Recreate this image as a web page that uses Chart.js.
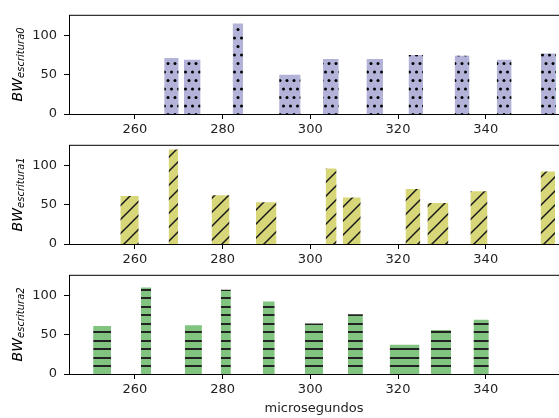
<!DOCTYPE html>
<html>
<head>
<meta charset="utf-8">
<script src="https://cdn.jsdelivr.net/npm/chart.js@4/dist/chart.umd.min.js"></script>
<style>
  body { margin: 0; background: #fff; width: 559px; height: 418px; position: relative; overflow: hidden; }
  canvas { position: absolute; left: 0; }
</style>
</head>
<body>
<canvas id="ch0" width="559" height="135" style="top:0"></canvas>
<canvas id="ch1" width="559" height="135" style="top:130px"></canvas>
<canvas id="ch2" width="559" height="158" style="top:260px"></canvas>
<script>
// tick labels
const xTicks = [260, 280, 300, 320, 340];
const yTicks = [0, 50, 100];

// escritura0: bar start / end (microsegundos) and BW
const w0Start = [266.7, 271.2, 282.3, 292.9, 302.9, 312.8, 322.4, 332.9, 342.5, 352.6];
const w0End   = [270.0, 275.0, 284.7, 297.8, 306.5, 316.6, 325.7, 336.3, 345.9, 356.0];
const w0Bw    = [71, 69, 115, 50, 70, 70, 75, 74, 69, 77];

// escritura1
const w1Start = [256.7, 267.7, 277.5, 287.6, 303.5, 307.4, 321.7, 326.7, 336.5, 352.5];
const w1End   = [260.9, 269.9, 281.6, 292.3, 306.0, 311.5, 325.1, 331.5, 340.4, 355.8];
const w1Bw    = [61, 120, 62, 53, 96, 59, 70, 52, 67, 92];

// escritura2
const w2Start = [250.5, 261.4, 271.4, 279.6, 289.2, 298.8, 308.6, 318.1, 327.5, 337.2];
const w2End   = [254.6, 263.7, 275.3, 281.9, 291.9, 302.9, 312.0, 324.9, 332.1, 340.7];
const w2Bw    = [61, 110, 62, 107, 92, 64, 76, 37, 56, 69];

function makePattern(bg, kind) {
    const c = document.createElement('canvas');
    let w = 8, h = 8;
    if (kind === 'diag') { w = 14; h = 14; }
    if (kind === 'dots') { w = 14; h = 17; }
    if (kind === 'lines') { w = 8; h = 17; }
    c.width = w; c.height = h;
    const g = c.getContext('2d');
    g.fillStyle = bg;
    g.fillRect(0, 0, w, h);
    g.fillStyle = '#000';
    g.strokeStyle = '#1a1a1a';
    if (kind === 'dots') {
        // staggered dots
        [[3.5, 4], [10.5, 4], [0, 12.5], [7, 12.5], [14, 12.5]].forEach(p => {
            g.beginPath();
            g.arc(p[0], p[1], 1.5, 0, Math.PI * 2);
            g.fill();
        });
    } else if (kind === 'diag') {
        g.lineWidth = 1.5;
        g.beginPath();
        g.moveTo(-2, h + 2); g.lineTo(w + 2, -2);
        g.moveTo(-2, 2); g.lineTo(2, -2);
        g.moveTo(w - 2, h + 2); g.lineTo(w + 2, h - 2);
        g.stroke();
    } else {
        g.fillStyle = '#222';
        g.fillRect(0, 3, w, 2);
        g.fillRect(0, 12, w, 2);
    }
    return g.createPattern(c, 'repeat');
}

function barSets(starts, ends, vals, pattern) {
    return vals.map((v, i) => ({
        data: [{x: starts[i], y: 0}, {x: starts[i], y: v}, {x: ends[i], y: v}, {x: ends[i], y: 0}],
        showLine: true,
        fill: 'origin',
        backgroundColor: pattern,
        borderColor: 'rgba(0,0,0,0)',
        borderWidth: 0,
        pointRadius: 0,
        tension: 0
    }));
}

// frame + y label with subscript
const framePlugin = {
    id: 'frame',
    afterDraw(chart, args, opts) {
        const {ctx, chartArea: a} = chart;
        ctx.save();
        ctx.strokeStyle = '#000';
        ctx.lineWidth = 1;
        ctx.strokeRect(a.left + 0.5, a.top + 0.5, a.right - a.left, a.bottom - a.top);
        ctx.translate(18, (a.top + a.bottom) / 2);
        ctx.rotate(-Math.PI / 2);
        ctx.fillStyle = '#000';
        ctx.textBaseline = 'middle';
        ctx.font = 'italic 14px "DejaVu Sans"';
        const w1 = ctx.measureText('BW').width;
        ctx.font = 'italic 10px "DejaVu Sans"';
        const w2 = ctx.measureText(opts.sub).width;
        const x0 = -(w1 + w2) / 2;
        ctx.font = 'italic 14px "DejaVu Sans"';
        ctx.fillText('BW', x0, 0);
        ctx.font = 'italic 10px "DejaVu Sans"';
        ctx.fillText(opts.sub, x0 + w1, 3);
        ctx.restore();
    }
};

function makeChart(id, sets, sub, xHeight, showTitle) {
    const tickFont = {family: 'DejaVu Sans', size: 13};
    return new Chart(document.getElementById(id), {
        type: 'scatter',
        data: {datasets: sets},
        plugins: [framePlugin],
        options: {
            responsive: false,
            animation: false,
            events: [],
            layout: {padding: {top: 5, right: 0, left: 0, bottom: 0}},
            plugins: {
                legend: {display: false},
                tooltip: {enabled: false},
                frame: {sub: sub}
            },
            scales: {
                x: {
                    type: 'linear', min: 245, max: 356.7,
                    afterBuildTicks: s => { s.ticks = xTicks.map(v => ({value: v})); },
                    afterFit: s => { s.height = xHeight; },
                    grid: {drawOnChartArea: false, color: '#000', tickLength: 5},
                    border: {display: false},
                    ticks: {color: '#222', font: tickFont, padding: 3, maxRotation: 0, autoSkip: false},
                    title: {display: showTitle, text: 'microsegundos', color: '#222', font: tickFont, padding: {top: 0, bottom: 2}}
                },
                y: {
                    min: 0, max: 126,
                    afterBuildTicks: s => { s.ticks = yTicks.map(v => ({value: v})); },
                    afterFit: s => { s.width = 69; },
                    grid: {drawOnChartArea: false, color: '#000', tickLength: 5},
                    border: {display: false},
                    ticks: {color: '#222', font: tickFont, padding: 7}
                }
            }
        }
    });
}

makeChart('ch0', barSets(w0Start, w0End, w0Bw, makePattern('#b3b3d9', 'dots')), 'escritura0', 21, false);
makeChart('ch1', barSets(w1Start, w1End, w1Bw, makePattern('#d7d77a', 'diag')), 'escritura1', 21, false);
makeChart('ch2', barSets(w2Start, w2End, w2Bw, makePattern('#80c480', 'lines')), 'escritura2', 44, true);
</script>
</body>
</html>
